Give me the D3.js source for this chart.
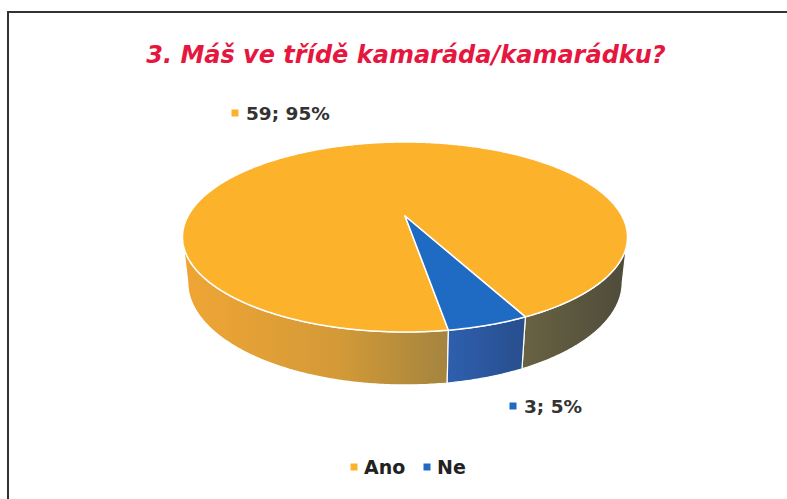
<!DOCTYPE html>
<html>
<head>
<meta charset="utf-8">
<script src="https://cdn.jsdelivr.net/npm/d3@7"></script>
<style>
  html, body { margin: 0; padding: 0; background: #fff; }
  svg { display: block; }
</style>
</head>
<body>
<div id="chart"></div>
<script>
////////////////////////////////////////////////////////////////
// Data
const title = "3. Máš ve třídě kamaráda/kamarádku?";
const categories = ["Ano", "Ne"];
const counts = [59, 3];
const shares = ["95%", "5%"];
const colors = ["#FDB22B", "#1F6BC4"];

////////////////////////////////////////////////////////////////
// Layout
const width = 787, height = 499;
const cx = 405, cy = 216;        // projected pie centre
const k = 892.5, L = 4.113;      // perspective
const tilt = Math.asin(0.4164);
const sa = Math.sin(tilt), ca = Math.cos(tilt);
const depthH = 0.229;            // wall height (pie radius = 1)
const firstAngle = 171;          // degrees, clockwise from 12 o'clock
const font = "'DejaVu Sans', sans-serif";

// project a point on the pie (d3 angle phi, radius r, level y)
const project = (phi, r, y) => {
  const th = Math.PI / 2 - phi;
  const X = r * Math.cos(th), Z = r * Math.sin(th);
  const d = L + Z * ca - y * sa;
  return [cx + k * X / d, cy - k * (y * ca + Z * sa) / d];
};

const svg = d3.select("#chart").append("svg")
  .attr("width", width).attr("height", height)
  .attr("viewBox", [0, 0, width, height]);

// frame
svg.append("path")
  .attr("d", `M${width},12H8V${height}`)
  .attr("fill", "none").attr("stroke", "#333").attr("stroke-width", 2);

svg.append("text")
  .attr("x", 406).attr("y", 63)
  .attr("text-anchor", "middle")
  .style("font", `italic bold 24px ${font}`)
  .attr("fill", "#E6173E")
  .text(title);

// gradients for the walls
const defs = svg.append("defs");
const wallStops = [
  [["0", "#F0A535"], ["0.35", "#D39A37"], ["0.6", "#A3843F"], ["0.75", "#6A6443"], ["1", "#4E4B3A"]],
  [["0", "#2E5FAE"], ["1", "#284F8E"]]
];
wallStops.forEach((stops, i) => {
  const g = defs.append("linearGradient")
    .attr("id", "wall" + i)
    .attr("gradientUnits", "userSpaceOnUse")
    .attr("x1", i ? 448 : 183).attr("x2", i ? 522 : 627)
    .attr("y1", 0).attr("y2", 0);
  stops.forEach(([o, c]) => g.append("stop").attr("offset", o).attr("stop-color", c));
});

const pie = d3.pie().sort(null)
  .startAngle(firstAngle * Math.PI / 180)
  .endAngle((firstAngle + 360) * Math.PI / 180);
const arcs = pie(counts);

const sample = (a0, a1) => {
  const n = Math.max(2, Math.ceil(Math.abs(a1 - a0) / 0.01));
  return d3.range(n + 1).map(i => a0 + (a1 - a0) * i / n);
};

// visible wall range (front half, between silhouettes)
const vis0 = Math.PI / 2 + 0.222, vis1 = 1.5 * Math.PI - 0.222;
const wallPieces = [];
arcs.forEach((a, i) => {
  for (let m = -1; m <= 2; m++) {
    const lo = Math.max(a.startAngle, vis0 + m * 2 * Math.PI);
    const hi = Math.min(a.endAngle, vis1 + m * 2 * Math.PI);
    if (hi > lo) wallPieces.push({ i, lo, hi });
  }
});

const line = d3.line();

svg.append("g").selectAll("path")
  .data(wallPieces)
  .join("path")
  .attr("d", p => {
    const ts = sample(p.lo, p.hi);
    const top = ts.map(t => project(t, 1, 0));
    const bot = ts.slice().reverse().map(t => project(t, 1, -depthH));
    return line(top.concat(bot)) + "Z";
  })
  .attr("fill", p => `url(#wall${p.i})`)
  .attr("stroke", "#fff").attr("stroke-width", 1.2).attr("stroke-linejoin", "round");

svg.append("g").selectAll("path")
  .data(arcs)
  .join("path")
  .attr("d", a => {
    const pts = [project(0, 0, 0)].concat(sample(a.startAngle, a.endAngle).map(t => project(t, 1, 0)));
    return line(pts) + "Z";
  })
  .attr("fill", (a, i) => colors[i])
  .attr("stroke", "#fff").attr("stroke-width", 1.5).attr("stroke-linejoin", "round");

// data labels
const labelPos = [[235, 113], [513, 406]];
const labels = svg.append("g")
  .style("font", `bold 18.5px ${font}`)
  .selectAll("g")
  .data(categories)
  .join("g")
  .attr("transform", (d, i) => `translate(${labelPos[i]})`);
labels.append("rect")
  .attr("x", -3.5).attr("y", -3.5).attr("width", 7).attr("height", 7)
  .attr("fill", (d, i) => colors[i]);
labels.append("text")
  .attr("x", 11).attr("dy", "0.36em")
  .attr("fill", "#333")
  .text((d, i) => `${counts[i]}; ${shares[i]}`);

// legend
const legendPos = [354, 427];
const legend = svg.append("g")
  .style("font", `bold 19px ${font}`)
  .selectAll("g")
  .data(categories)
  .join("g")
  .attr("transform", (d, i) => `translate(${legendPos[i]},467)`);
legend.append("rect")
  .attr("x", -3.5).attr("y", -3.5).attr("width", 7).attr("height", 7)
  .attr("fill", (d, i) => colors[i]);
legend.append("text")
  .attr("x", 10).attr("dy", "0.36em")
  .attr("fill", "#222")
  .text(d => d);
</script>
</body>
</html>
